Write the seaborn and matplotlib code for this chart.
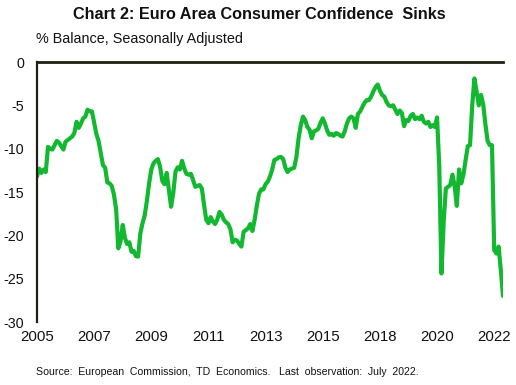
import matplotlib
matplotlib.use("Agg")
import matplotlib.pyplot as plt
import seaborn as sns
import numpy as np
import pandas as pd

# Euro area consumer confidence, % balance, monthly
confidence = [
    -13.2, -12.3, -12.8, -12.4, -12.7, -9.8, -10.0, -10.1, -9.6, -9.1, -9.3, -9.7,
    -10.1, -9.2, -9.0, -8.8, -8.6, -8.2, -6.9, -7.6, -7.1, -6.5, -6.3, -5.5,
    -5.7, -5.7, -7.0, -8.3, -9.1, -10.5, -11.9, -12.2, -13.9, -14.0, -14.3, -15.3,
    -17.0, -21.5, -20.7, -18.8, -20.3, -21.0, -20.8, -21.9, -21.8, -22.4, -22.45, -19.8,
    -18.6, -17.7, -16.0, -14.0, -12.4, -11.7, -11.4, -11.2, -12.1, -13.7, -14.1, -12.8,
    -14.8, -16.7, -15.1, -12.65, -12.15, -12.4, -11.4, -12.3, -12.9, -13.0, -12.9, -13.6,
    -14.4, -14.3, -14.2, -14.6, -16.5, -18.2, -18.6, -17.9, -18.4, -18.7, -18.2, -17.3,
    -17.6, -18.2, -18.5, -18.7, -19.3, -20.8, -20.5, -20.6, -21.0, -21.3, -19.6, -19.4,
    -19.2, -18.7, -19.5, -18.2, -16.6, -15.2, -14.7, -14.7, -14.1, -13.8, -13.2, -12.4,
    -11.3, -11.2, -11.0, -10.95, -11.2, -12.2, -12.7, -12.4, -12.3, -12.2, -11.0, -8.8,
    -7.3, -6.3, -6.7, -7.5, -7.8, -8.8, -8.0, -7.9, -7.7, -7.0, -6.5, -7.1,
    -7.9, -8.4, -8.3, -8.5, -8.2, -8.3, -8.5, -8.6, -8.0, -7.1, -6.5, -6.3,
    -6.5, -7.6, -6.0, -5.7, -5.2, -4.7, -4.4, -4.4, -4.0, -3.4, -2.9, -2.6,
    -3.3, -3.8, -4.0, -4.6, -5.0, -5.1, -5.0, -5.5, -6.0, -5.6, -5.9, -7.4,
    -6.7, -6.8, -6.2, -6.0, -6.6, -6.4, -6.6, -6.2, -6.9, -7.1, -6.9, -7.5,
    -7.3, -7.5, -6.4, -12.0, -24.4, -18.5, -14.6, -14.4, -14.2, -13.0, -14.3, -16.6,
    -12.4, -14.0, -13.0, -11.3, -9.7, -9.6, -5.0, -1.9, -3.4, -5.0, -3.8, -4.9,
    -7.2, -9.1, -9.6, -9.6, -21.7, -22.1, -21.3, -24.0, -27.0,
]
tick_labels = ["2005", "2007", "2009", "2011", "2013", "2015", "2018", "2020", "2022"]
tick_every = 26
y_ticks = [0, -5, -10, -15, -20, -25, -30]

df = pd.DataFrame({"idx": np.arange(len(confidence)), "value": confidence})

sns.set_style("white")
plt.rcParams["font.family"] = ["Liberation Sans", "DejaVu Sans"]

W, H = 516, 385
fig = plt.figure(figsize=(W / 100, H / 100), dpi=100)
left, right, top, bottom = 37, 503, 62, 322
ax = fig.add_axes([left / W, 1 - bottom / H, (right - left) / W, (bottom - top) / H])

sns.lineplot(data=df, x="idx", y="value", ax=ax, color="#12B830",
             linewidth=3.0, solid_capstyle="round", solid_joinstyle="round")

ax.set_xlim(0, len(confidence) - 1)
ax.set_ylim(-30, 0)
ax.set_xticks([i * tick_every for i in range(len(tick_labels))])
ax.set_xticklabels(tick_labels)
ax.set_yticks(y_ticks)
ax.set_yticklabels([str(v) for v in y_ticks])
ax.set_xlabel("")
ax.set_ylabel("")
ax.tick_params(axis="both", length=0, colors="#111111")
ax.tick_params(axis="x", pad=6, labelsize=10.8)
ax.tick_params(axis="y", pad=9, labelsize=10.3)

for s in ["right", "bottom"]:
    ax.spines[s].set_visible(False)
ax.spines["left"].set_color("#1f1f12")
ax.spines["left"].set_linewidth(1.6)
ax.spines["top"].set_color("#1f1f12")
ax.spines["top"].set_linewidth(2.0)
ax.grid(False)

fig.text(259 / W, 1 - 14.5 / H, "Chart 2: Euro Area Consumer Confidence  Sinks",
         ha="center", va="center", fontsize=11.7, fontweight="bold", color="#111111")
fig.text(36.5 / W, 1 - 38.5 / H, "% Balance, Seasonally Adjusted",
         ha="left", va="center", fontsize=10.4, color="#111111")
fig.text(35.5 / W, 1 - 372 / H,
         "Source:  European  Commission,  TD  Economics.   Last  observation:  July  2022.",
         ha="left", va="center", fontsize=7.6, color="#111111")

fig.savefig("out.png", dpi=100)
